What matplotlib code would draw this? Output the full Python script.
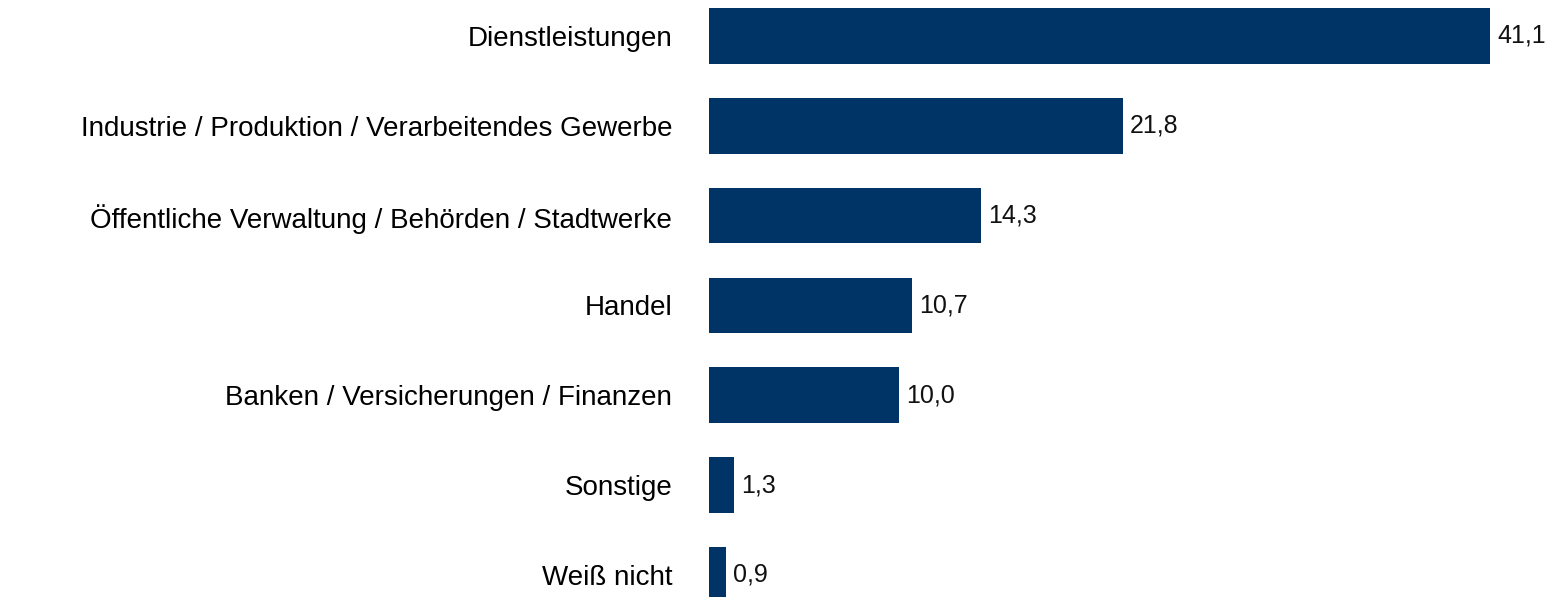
import matplotlib
matplotlib.use("Agg")
import matplotlib.pyplot as plt

categories = [
    "Dienstleistungen",
    "Industrie / Produktion / Verarbeitendes Gewerbe",
    "Öffentliche Verwaltung / Behörden / Stadtwerke",
    "Handel",
    "Banken / Versicherungen / Finanzen",
    "Sonstige",
    "Weiß nicht",
]
values = [41.1, 21.8, 14.3, 10.7, 10.0, 1.3, 0.9]

plt.rcParams['font.family'] = ['Liberation Sans', 'DejaVu Sans']

fig = plt.figure(figsize=(15.58, 5.97), dpi=100)
ax = fig.add_axes([709 / 1558, 0, 849 / 1558, 1])

pos = list(range(len(categories)))
ax.barh(pos, values, height=0.62, color="#003366")

ax.set_xlim(0, 849 / 19.0)
ax.set_ylim((597 - 36) / 89.8, -36 / 89.8)

for p, v in zip(pos, values):
    ax.text(v + 0.37, p, f"{v:.1f}".replace(".", ","), va="center", ha="left",
            fontsize=18, color="#111111")

ax.set_yticks(pos)
ax.set_yticklabels(categories, fontsize=20)
ax.tick_params(axis="y", length=0, pad=26.6)
ax.set_xticks([])
for s in ax.spines.values():
    s.set_visible(False)

fig.savefig("out.png", dpi=100)
